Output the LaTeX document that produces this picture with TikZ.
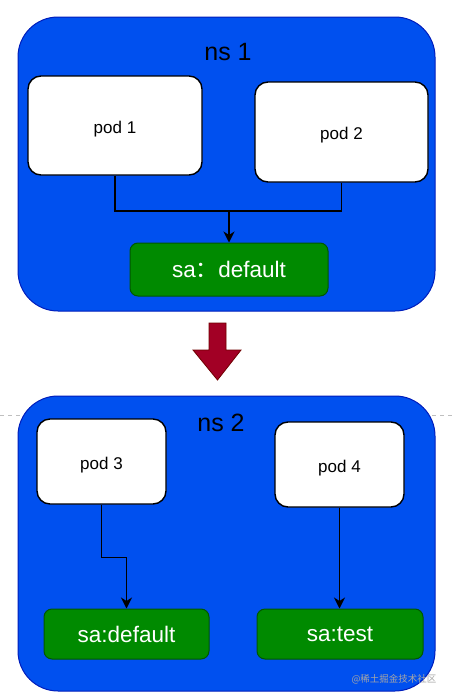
\documentclass[tikz,border=0pt]{standalone}
\usepackage{fontspec}
\setmainfont{Liberation Sans}
\newfontfamily\cjk{Noto Sans CJK SC}
\usetikzlibrary{arrows.meta}
\definecolor{nsblue}{HTML}{0050EF}
\definecolor{nsstroke}{HTML}{001DBC}
\definecolor{sagreen}{HTML}{008A00}
\definecolor{sastroke}{HTML}{005700}
\definecolor{flowred}{HTML}{A20025}
\definecolor{flowredstroke}{HTML}{6F0000}
\begin{document}
\begin{tikzpicture}[x=1pt,y=-1pt,
  nsbox/.style={draw=nsstroke, fill=nsblue, rounded corners=40pt, line width=1pt, inner sep=0pt},
  nslabel/.style={font=\fontsize{25}{29}\selectfont, text=black, inner sep=0pt},
  podbox/.style={draw=black, fill=white, rounded corners=13pt, line width=1.4pt, font=\fontsize{17}{20}\selectfont, inner sep=0pt, text height=15pt, text depth=0pt},
  sabox/.style={draw=sastroke, fill=sagreen, rounded corners=8pt, line width=1pt, text=white, font=\fontsize{22.5}{26}\selectfont, inner sep=0pt},
  plainline/.style={draw=black, line width=1.5pt},
  link/.style={draw=black, line width=1.5pt, -{Stealth[length=11pt,width=11pt,inset=3.5pt]}},
  watermark/.style={font=\cjk\fontsize{9.5}{11}\selectfont, text=black!35, inner sep=0pt}
  ]
\useasboundingbox (0,0) rectangle (452,699);
\fill[white] (0,0) rectangle (452,699);

% ---- namespace 1 ----
\node[nsbox, minimum width=417pt, minimum height=294pt] (ns1) at (226.5,164) {};
\node[nslabel] (ns1label) at (228,52) {ns 1};
\node[podbox, minimum width=174pt, minimum height=99pt] (pod1) at (115,125.5) {pod 1};
\node[podbox, minimum width=173pt, minimum height=100pt] (pod2) at (341.5,132) {pod 2};
\node[sabox, minimum width=198pt, minimum height=53pt] (sa1) at (229,269.5) {sa{\cjk ：}default};
\coordinate (m1) at (229,211);
\draw[plainline] (pod1.south) |- (m1);
\draw[plainline] (pod2.south) |- (m1);
\draw[link] (m1) -- (sa1.north);

% ---- big red arrow ----
\draw[fill=flowred, draw=flowredstroke, line width=0.8pt, line join=miter]
  (209,323) -- (226,323) -- (226,350) -- (241,350) -- (217.5,380) -- (193,350) -- (209,350) -- cycle;

% ---- dashed guide line ----
\draw[black!25, line width=0.8pt, dash pattern=on 4pt off 4pt] (0,415) -- (452,415);

% ---- namespace 2 ----
\node[nsbox, minimum width=417pt, minimum height=295pt] (ns2) at (226.5,543.5) {};
\node[nslabel] (ns2label) at (221,423) {ns 2};
\node[podbox, minimum width=129pt, minimum height=85pt] (pod3) at (101.5,461.5) {pod 3};
\node[podbox, minimum width=129pt, minimum height=85pt] (pod4) at (339.5,464.5) {pod 4};
\node[sabox, minimum width=165pt, minimum height=50pt] (sa2) at (126.5,634) {sa:default};
\node[sabox, minimum width=166pt, minimum height=50pt] (sa3) at (340,634) {sa:test};
\draw[link] (pod3.south) -- ++(0,53) -| (sa2.north);
\draw[link] (pod4.south) -- (pod4.south |- sa3.north);

\node[watermark] (wm) at (394,679) {@稀土掘金技术社区};
\end{tikzpicture}
\end{document}
